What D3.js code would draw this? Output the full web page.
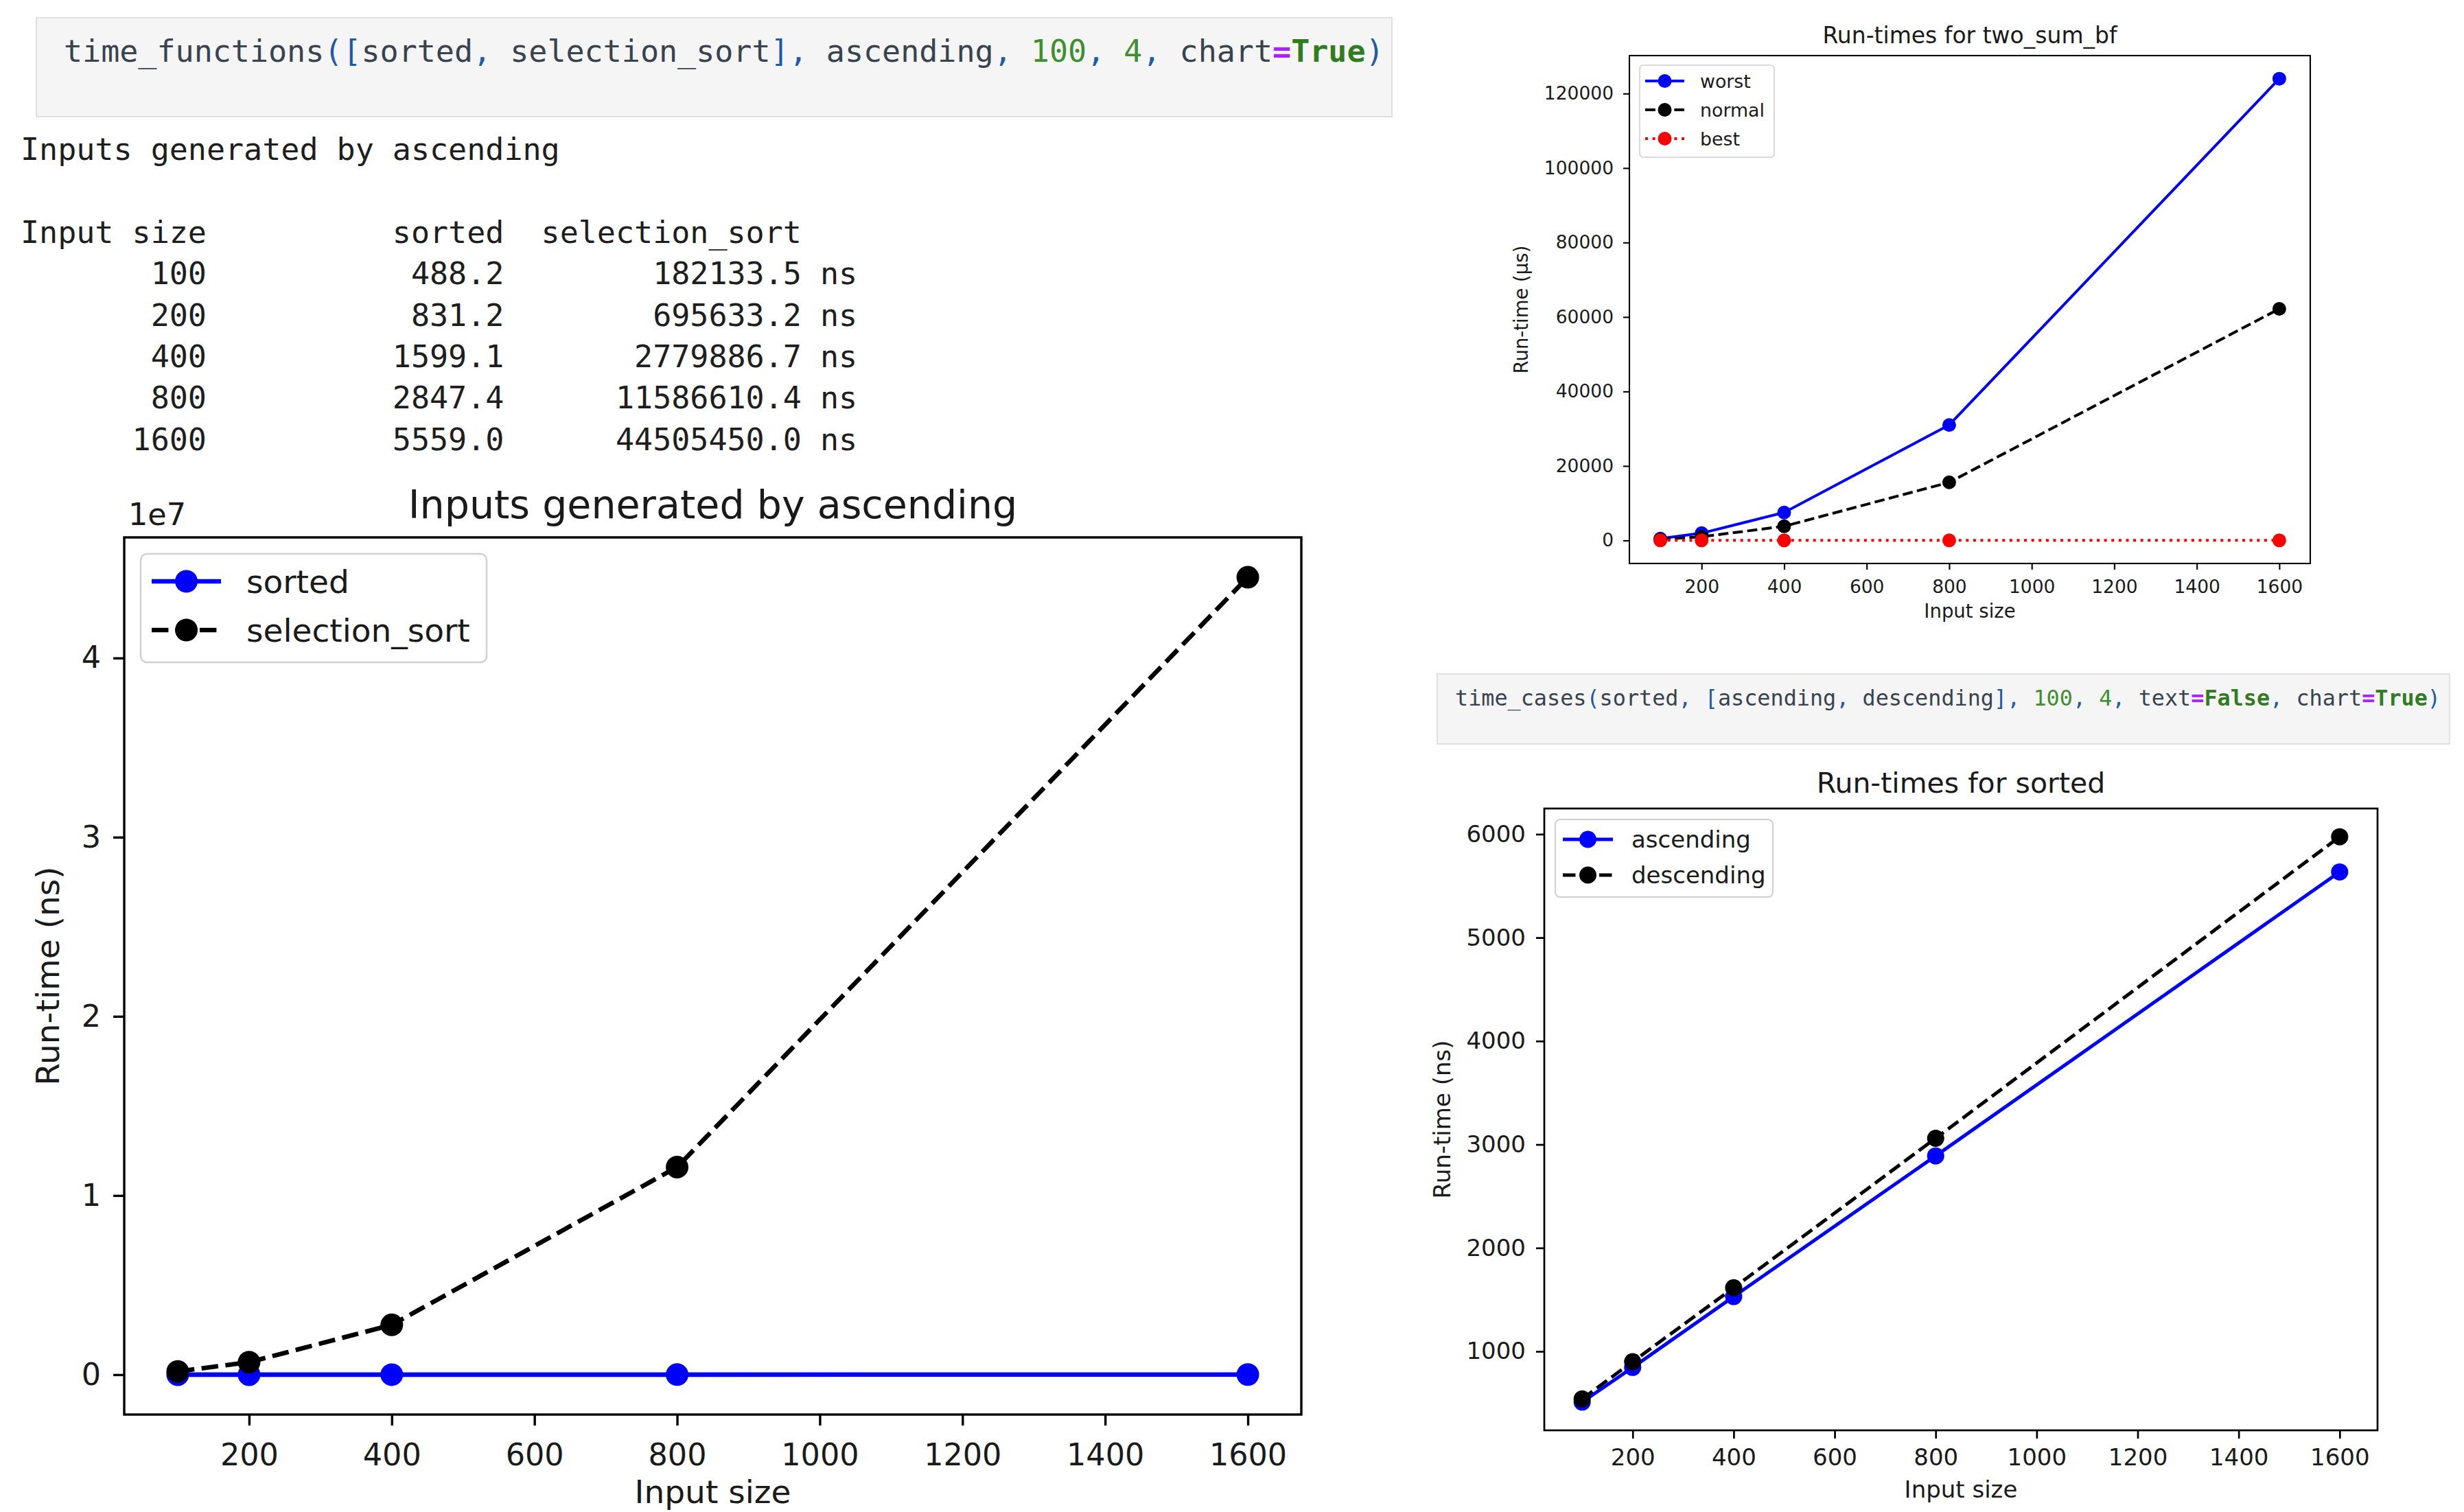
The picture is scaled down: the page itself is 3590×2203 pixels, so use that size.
<!DOCTYPE html>
<html>
<head>
<meta charset="utf-8">
<script src="https://cdn.jsdelivr.net/npm/d3@7"></script>
<style>
  html, body { margin: 0; padding: 0; background: #fff; }
  svg { display: block; }
  text { white-space: pre; }
</style>
</head>
<body>
<script>
// ---------------- DATA ----------------
const sizes = [100, 200, 400, 800, 1600];
const xTicks = [200, 400, 600, 800, 1000, 1200, 1400, 1600];

// time_functions([sorted, selection_sort], ascending, ...)
const sortedTimes = [488.2, 831.2, 1599.1, 2847.4, 5559.0];
const selectionSortTimes = [182133.5, 695633.2, 2779886.7, 11586610.4, 44505450.0];
const mainYTicks = [0, 1e7, 2e7, 3e7, 4e7];

// Run-times for two_sum_bf (µs)
const worstTimes = [490, 1950, 7500, 31000, 124000];
const normalTimes = [260, 1000, 3800, 15600, 62200];
const bestTimes = [12, 12, 13, 13, 14];
const twoSumYTicks = [0, 20000, 40000, 60000, 80000, 100000, 120000];

// Run-times for sorted (ns)
const ascendingTimes = [510, 845, 1530, 2890, 5635];
const descendingTimes = [540, 900, 1615, 3060, 5975];
const sortedYTicks = [1000, 2000, 3000, 4000, 5000, 6000];

// ---------------- PAGE ----------------
const W = 3590, H = 2203;
const svg = d3.select("body").append("svg").attr("width", W).attr("height", H);
svg.append("rect").attr("width", W).attr("height", H).attr("fill", "#fff");

const MONO = "'DejaVu Sans Mono', 'Liberation Mono', monospace";
const SANS = "'DejaVu Sans', 'Liberation Sans', sans-serif";
const codeColors = { v: "#37434f", p: "#1f5aa6", n: "#3f8f2f", o: "#aa22ff", k: "#2f7d1f", s: "#37434f" };

function codeCell(box, tokens, tx, ty, fs) {
  svg.append("rect").attr("x", box.x).attr("y", box.y).attr("width", box.w).attr("height", box.h)
    .attr("fill", "#f5f5f5").attr("stroke", "#e0e0e0").attr("stroke-width", 2);
  const t = svg.append("text").attr("x", tx).attr("y", ty)
    .attr("font-family", MONO).attr("font-size", fs).attr("xml:space", "preserve");
  tokens.forEach(([s, c]) => {
    t.append("tspan").text(s).attr("fill", codeColors[c] || "#37434f")
      .attr("font-weight", (c === "o" || c === "k") ? "bold" : "normal");
  });
}

codeCell({ x: 53, y: 26, w: 1975, h: 144 }, [
  ["time_functions", "v"], ["(", "p"], ["[", "p"], ["sorted", "v"], [",", "p"], [" selection_sort", "v"],
  ["]", "p"], [",", "p"], [" ascending", "v"], [",", "p"], [" ", "s"], ["100", "n"], [",", "p"], [" ", "s"],
  ["4", "n"], [",", "p"], [" chart", "v"], ["=", "o"], ["True", "k"], [")", "p"]
], 93, 90, 45);

codeCell({ x: 2094, y: 982, w: 1475, h: 102 }, [
  ["time_cases", "v"], ["(", "p"], ["sorted", "v"], [",", "p"], [" ", "s"], ["[", "p"], ["ascending", "v"], [",", "p"],
  [" descending", "v"], ["]", "p"], [",", "p"], [" ", "s"], ["100", "n"], [",", "p"], [" ", "s"], ["4", "n"], [",", "p"],
  [" text", "v"], ["=", "o"], ["False", "k"], [",", "p"], [" chart", "v"], ["=", "o"], ["True", "k"], [")", "p"]
], 2120, 1028, 31.8);

// text output
const outLines = ["Inputs generated by ascending", "",
  "Input size" + "sorted".padStart(16) + "selection_sort".padStart(16)];
sizes.forEach((n, i) => {
  outLines.push(String(n).padStart(10) + sortedTimes[i].toFixed(1).padStart(16) +
    selectionSortTimes[i].toFixed(1).padStart(16) + " ns");
});
const out = svg.append("text").attr("font-family", MONO).attr("font-size", 45).attr("fill", "#1e1e1e")
  .attr("xml:space", "preserve");
outLines.forEach((l, i) => {
  out.append("tspan").attr("x", 30).attr("y", 233 + i * 60.4).text(l);
});

// ---------------- CHART HELPER ----------------
function drawChart(c) {
  const g = svg.append("g");
  const xe = d3.extent(sizes), xp = (xe[1] - xe[0]) * 0.05;
  const x = d3.scaleLinear().domain([xe[0] - xp, xe[1] + xp]).range([c.left, c.right]);
  const all = c.series.flatMap(s => s.values);
  const ye = d3.extent(all), yp = (ye[1] - ye[0]) * 0.05;
  const y = d3.scaleLinear().domain([ye[0] - yp, ye[1] + yp]).range([c.bottom, c.top]);

  // axes
  const xa = g.append("g").attr("transform", `translate(0,${c.bottom})`)
    .call(d3.axisBottom(x).tickValues(xTicks).tickSize(c.tickLen).tickPadding(c.padX).tickFormat(d3.format("d")));
  const ya = g.append("g").attr("transform", `translate(${c.left},0)`)
    .call(d3.axisLeft(y).tickValues(c.yTicks).tickSize(c.tickLen).tickPadding(c.padY).tickFormat(c.yFmt));
  [xa, ya].forEach(a => {
    a.select(".domain").remove();
    a.selectAll("line").attr("stroke", "#000").attr("stroke-width", c.spineW);
    a.selectAll("text").attr("font-family", SANS).attr("font-size", c.tickFont).attr("fill", "#1a1a1a");
  });

  // series
  c.series.forEach(s => {
    const line = d3.line().x((d, i) => x(sizes[i])).y(d => y(d));
    g.append("path").datum(s.values).attr("d", line).attr("fill", "none")
      .attr("stroke", s.color).attr("stroke-width", c.lw)
      .attr("stroke-dasharray", s.dash ? s.dash.map(v => v * c.lw).join(",") : null);
    g.selectAll(null).data(s.values).enter().append("circle")
      .attr("cx", (d, i) => x(sizes[i])).attr("cy", d => y(d)).attr("r", c.r).attr("fill", s.color);
  });

  // frame
  g.append("rect").attr("x", c.left).attr("y", c.top).attr("width", c.right - c.left).attr("height", c.bottom - c.top)
    .attr("fill", "none").attr("stroke", "#000").attr("stroke-width", c.spineW);

  // title and labels
  const cx = (c.left + c.right) / 2;
  g.append("text").attr("x", cx).attr("y", c.titleY).attr("text-anchor", "middle")
    .attr("font-family", SANS).attr("font-size", c.titleFont).attr("fill", "#1a1a1a").text(c.title);
  g.append("text").attr("x", cx).attr("y", c.xlabelY).attr("text-anchor", "middle")
    .attr("font-family", SANS).attr("font-size", c.labelFont).attr("fill", "#1a1a1a").text("Input size");
  g.append("text").attr("transform", `translate(${c.ylabelX},${(c.top + c.bottom) / 2}) rotate(-90)`)
    .attr("text-anchor", "middle").attr("font-family", SANS).attr("font-size", c.labelFont)
    .attr("fill", "#1a1a1a").text(c.ylabel);
  if (c.offsetText) {
    g.append("text").attr("x", c.offsetText.x).attr("y", c.offsetText.y).attr("font-family", SANS)
      .attr("font-size", c.tickFont).attr("fill", "#1a1a1a").text(c.offsetText.text);
  }

  // legend
  const L = c.legend;
  g.append("rect").attr("x", L.x).attr("y", L.y).attr("width", L.w).attr("height", L.h)
    .attr("rx", L.rx).attr("fill", "#fff").attr("fill-opacity", 0.8)
    .attr("stroke", "#d0d0d0").attr("stroke-width", L.bw);
  c.series.forEach((s, i) => {
    const ry = L.rows[i];
    g.append("line").attr("x1", L.h1).attr("x2", L.h2).attr("y1", ry).attr("y2", ry)
      .attr("stroke", s.color).attr("stroke-width", c.lw)
      .attr("stroke-dasharray", s.dash ? s.dash.map(v => v * c.lw).join(",") : null);
    g.append("circle").attr("cx", (L.h1 + L.h2) / 2).attr("cy", ry).attr("r", c.r).attr("fill", s.color);
    g.append("text").attr("x", L.tx).attr("y", ry).attr("dy", "0.36em").attr("font-family", SANS)
      .attr("font-size", L.font).attr("fill", "#1a1a1a").text(s.name);
  });
}

const DASHED = [3.7, 1.6], DOTTED = [1, 1.65];

// Main chart
drawChart({
  left: 181, right: 1896, top: 783, bottom: 2061,
  series: [
    { name: "sorted", values: sortedTimes, color: "#0000ff", dash: null },
    { name: "selection_sort", values: selectionSortTimes, color: "#000000", dash: DASHED }
  ],
  yTicks: mainYTicks, yFmt: d => String(d / 1e7),
  tickFont: 44.5, tickLen: 16, padX: 26, padY: 18, spineW: 3.4, lw: 6.6, r: 16.5,
  title: "Inputs generated by ascending", titleFont: 57, titleY: 755,
  ylabel: "Run-time (ns)", ylabelX: 86, xlabelY: 2190, labelFont: 47,
  offsetText: { x: 187, y: 765, text: "1e7" },
  legend: { x: 205, y: 807, w: 504, h: 158, rx: 9, bw: 2.5, rows: [847, 918], h1: 221, h2: 322, tx: 359, font: 47 }
});

// Top-right chart
drawChart({
  left: 2374, right: 3366, top: 81, bottom: 821,
  series: [
    { name: "worst", values: worstTimes, color: "#0000ff", dash: null },
    { name: "normal", values: normalTimes, color: "#000000", dash: DASHED },
    { name: "best", values: bestTimes, color: "#ff0000", dash: DOTTED }
  ],
  yTicks: twoSumYTicks, yFmt: d3.format("d"),
  tickFont: 26.5, tickLen: 9, padX: 15, padY: 14, spineW: 2.1, lw: 4, r: 10,
  title: "Run-times for two_sum_bf", titleFont: 33, titleY: 63,
  ylabel: "Run-time (µs)", ylabelX: 2226, xlabelY: 900, labelFont: 27.5,
  legend: { x: 2389, y: 95, w: 196, h: 134, rx: 5, bw: 1.6, rows: [118, 160, 202], h1: 2397, h2: 2454, tx: 2477, font: 26.8 }
});

// Bottom-right chart
drawChart({
  left: 2250, right: 3464, top: 1178, bottom: 2084,
  series: [
    { name: "ascending", values: ascendingTimes, color: "#0000ff", dash: null },
    { name: "descending", values: descendingTimes, color: "#000000", dash: DASHED }
  ],
  yTicks: sortedYTicks, yFmt: d3.format("d"),
  tickFont: 34, tickLen: 12, padX: 15, padY: 15, spineW: 2.7, lw: 5, r: 12.5,
  title: "Run-times for sorted", titleFont: 41, titleY: 1155,
  ylabel: "Run-time (ns)", ylabelX: 2113, xlabelY: 2182, labelFont: 34,
  legend: { x: 2266, y: 1194, w: 317, h: 113, rx: 7, bw: 2, rows: [1223, 1275], h1: 2277, h2: 2350, tx: 2377, font: 34 }
});
</script>
</body>
</html>
